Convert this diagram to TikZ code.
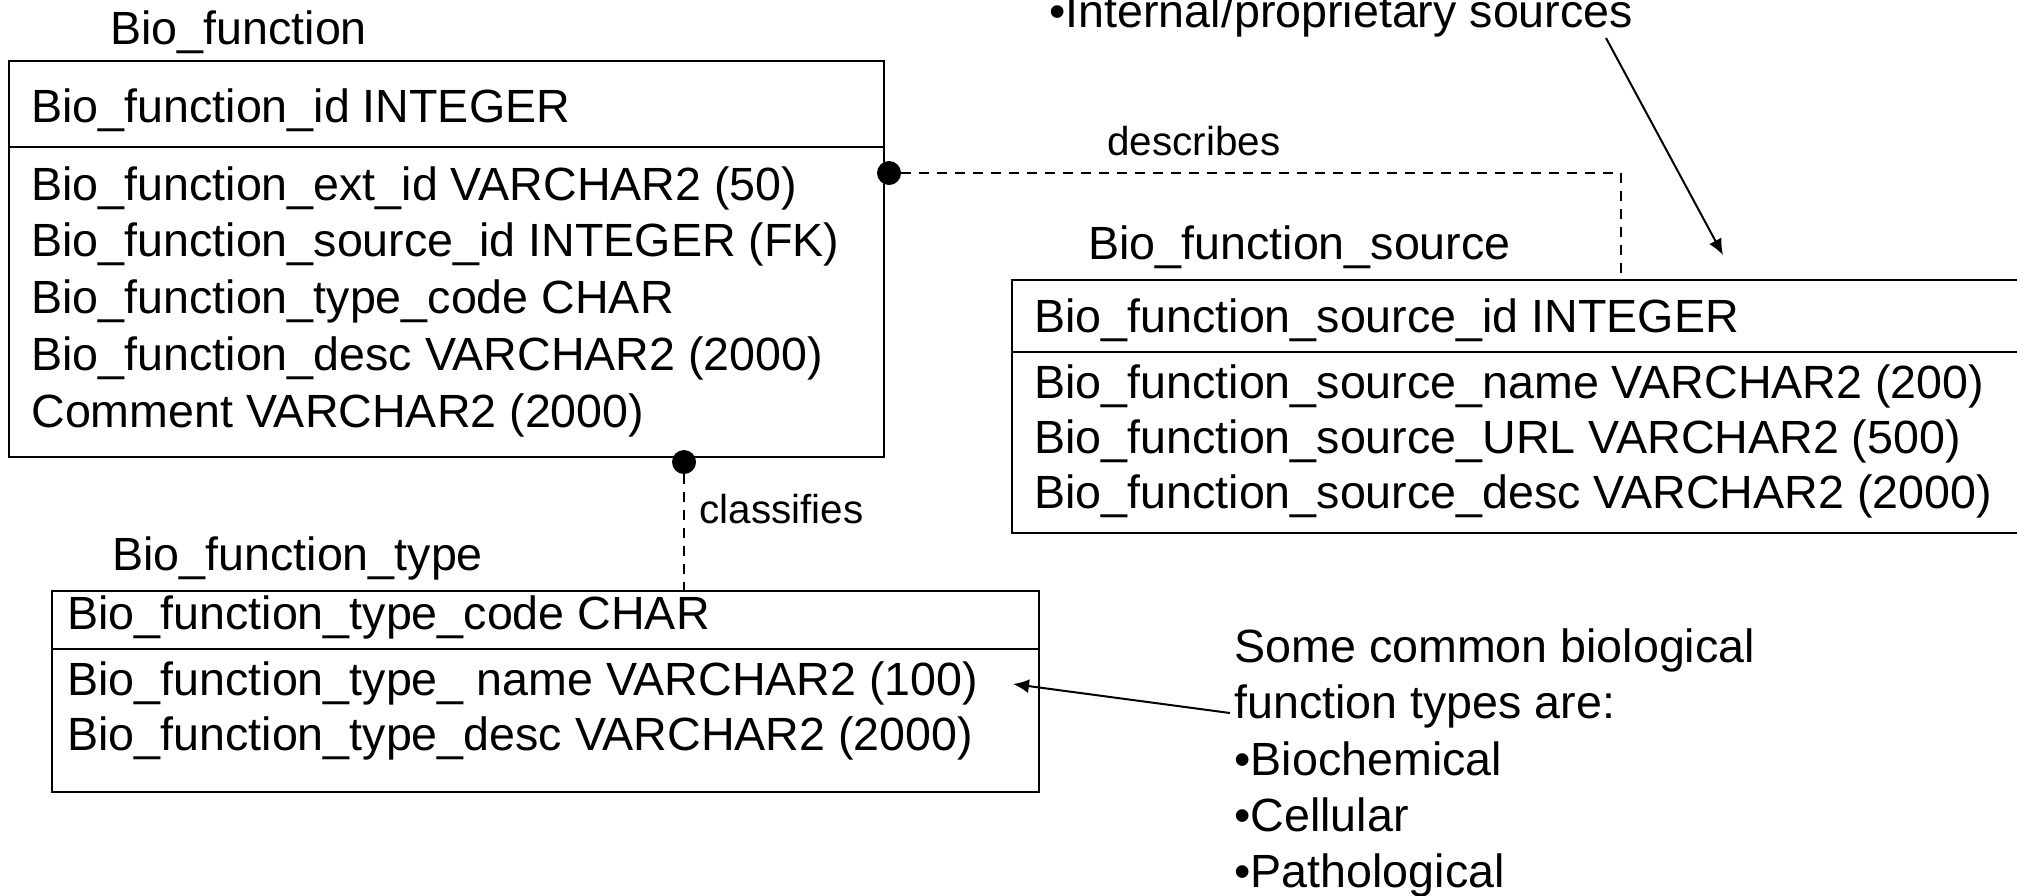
\documentclass[tikz,border=0pt]{standalone}
\usepackage{fontspec}
\setmainfont{Liberation Sans}
\usetikzlibrary{arrows.meta}
\tikzset{
  tbl/.style={line width=1.3pt},
  fld/.style={anchor=base west, inner sep=0pt, font=\fontsize{23.3}{28}\selectfont},
  lbl/.style={anchor=base west, inner sep=0pt, font=\fontsize{20.2}{24}\selectfont},
  rel/.style={line width=1pt, dash pattern=on 5pt off 4pt},
  dot/.style={circle, fill=black, inner sep=0pt, minimum size=12pt},
  pointer/.style={line width=1pt, -{Latex[length=8pt,width=7pt]}},
}

\begin{document}
\begin{tikzpicture}[x=0.5pt,y=-0.5pt]
		\useasboundingbox (0,0) rectangle (2017,895);
		%%%%% START %%%%%
		
		% Bio_function
		\node[fld] (fnTitle) at (110,44) {Bio\_function};
		\draw[tbl] (9,61) rectangle (884,457);
		\draw[tbl] (9,147) -- (884,147);
		\node[fld] (fnId) at (31,122) {Bio\_function\_id INTEGER};
		\node[fld] (fnExt) at (31,200) {Bio\_function\_ext\_id VARCHAR2 (50)};
		\node[fld] (fnSrc) at (31,256) {Bio\_function\_source\_id INTEGER (FK)};
		\node[fld] (fnType) at (31,313) {Bio\_function\_type\_code CHAR};
		\node[fld] (fnDesc) at (31,370) {Bio\_function\_desc VARCHAR2 (2000)};
		\node[fld] (fnCmt) at (31,427) {Comment VARCHAR2 (2000)};
		
		% Bio_function_source
		\node[fld] (srcTitle) at (1088,259) {Bio\_function\_source};
		\draw[tbl] (2040,280) -- (1012,280) -- (1012,533) -- (2040,533);
		\draw[tbl] (1012,352) -- (2040,352);
		\node[fld] (srcId) at (1034,332) {Bio\_function\_source\_id INTEGER};
		\node[fld] (srcName) at (1034,398) {Bio\_function\_source\_name VARCHAR2 (200)};
		\node[fld] (srcUrl) at (1034,453) {Bio\_function\_source\_URL VARCHAR2 (500)};
		\node[fld] (srcDesc) at (1034,508) {Bio\_function\_source\_desc VARCHAR2 (2000)};
		
		% Bio_function_type
		\node[fld] (typTitle) at (112,570) {Bio\_function\_type};
		\draw[tbl] (52,591) rectangle (1039,792);
		\draw[tbl] (52,649) -- (1039,649);
		\node[fld] (typCode) at (67,629) {Bio\_function\_type\_code CHAR};
		\node[fld] (typName) at (67,695) {Bio\_function\_type\_ name VARCHAR2 (100)};
		\node[fld] (typDesc) at (67,750) {Bio\_function\_type\_desc VARCHAR2 (2000)};
		
		% relationships
		\node[dot] (descDot) at (889,173) {};
		\coordinate (srcTop) at (1621,280);
		\draw[rel] (descDot.east) -| (srcTop);
		\node[lbl] (descLbl) at (1107,155) {describes};
		
		\node[dot] (clsDot) at (684,462) {};
		\coordinate (typTop) at (684,591);
		\draw[rel] (clsDot.south) -- (typTop);
		\node[lbl] (clsLbl) at (699,523) {classifies};
		
		% notes
		\node[fld] (srcNote) at (1049,27) {\textbullet Internal/proprietary sources};
		\coordinate (srcNoteEnd) at (1606,38);
		\coordinate (srcNoteTip) at (1723,255);
		\draw[pointer] (srcNoteEnd) -- (srcNoteTip);
		
		\node[fld] (typNote1) at (1234,662) {Some common biological};
		\node[fld] (typNote2) at (1234,718) {function types are:};
		\node[fld] (typNote3) at (1234,775) {\textbullet Biochemical};
		\node[fld] (typNote4) at (1234,831) {\textbullet Cellular};
		\node[fld] (typNote5) at (1234,887) {\textbullet Pathological};
		\coordinate (typNoteEnd) at (1230,713);
		\coordinate (typNoteTip) at (1013,684);
		\draw[pointer] (typNoteEnd) -- (typNoteTip);
		
		%%%%% END %%%%%
\end{tikzpicture}
\end{document}
